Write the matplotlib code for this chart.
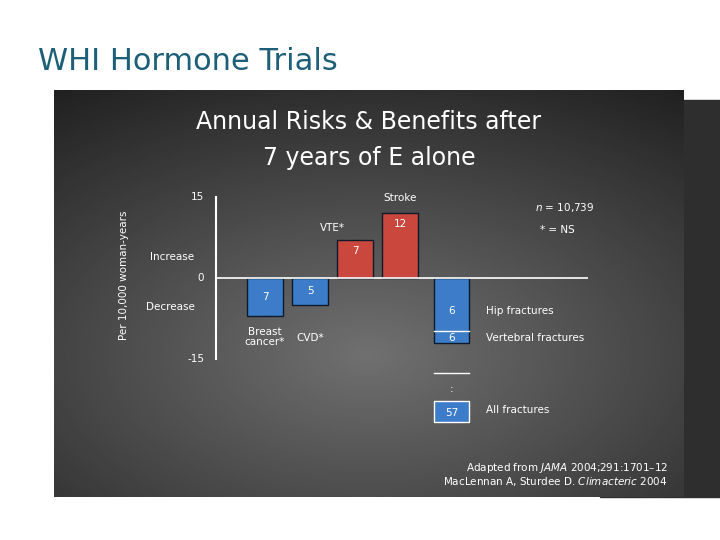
import numpy as np
import matplotlib.pyplot as plt
from matplotlib.patches import Rectangle

categories = ["Breast\ncancer*", "CVD*", "VTE*", "Stroke", "Hip fractures"]
values = [-7, -5, 7, 12, -6]
vertebral = -6
all_fractures = 57
positions = [0, 1, 2, 3, 4.15]

W, H = 720, 540
fig = plt.figure(figsize=(7.2, 5.4), dpi=100)
fig.patch.set_facecolor("white")

def fx(px): return px / W
def fy(py): return 1 - py / H

# slide title and background panels
fig.text(fx(38), fy(62), "WHI Hormone Trials", fontsize=22, color="#1d5f78", va="center")
fig.add_artist(Rectangle((fx(600), fy(497)), fx(120), fy(100) - fy(497), transform=fig.transFigure,
                         color="#2e2e2e", zorder=0))
bg = fig.add_axes([fx(54), fy(497), fx(630), fy(90) - fy(497)], zorder=0)
xx, yy = np.meshgrid(np.linspace(-1, 1, 300), np.linspace(-1, 1, 300))
shade = 0.44 - 0.22 * np.sqrt((xx * 0.8) ** 2 + ((yy - 0.3) * 0.9) ** 2)
bg.imshow(shade, cmap="gray", vmin=0, vmax=1, aspect="auto", extent=[0, 1, 0, 1])
bg.set_axis_off()

fig.text(fx(369), fy(122), "Annual Risks & Benefits after", fontsize=17, color="white", ha="center", va="center")
fig.text(fx(369), fy(158), "7 years of E alone", fontsize=17, color="white", ha="center", va="center")

# main axes: y pixel 197 -> 15, 278 -> 0
top_px, bot_px = 190, 440
ax = fig.add_axes([fx(216), fy(bot_px), fx(588) - fx(216), fy(top_px) - fy(bot_px)], zorder=1)
ax.set_facecolor("none")
ax.set_ylim(-(bot_px - 278) / 5.4, (278 - top_px) / 5.4)
ax.set_xlim((216 - 265) / 45, (588 - 265) / 45)
for s in ax.spines.values():
    s.set_visible(False)
ax.set_xticks([])
ax.set_yticks([])
ax.plot([ax.get_xlim()[0]] * 2, [-15, 15], color="white", lw=1.5, clip_on=False)
ax.axhline(0, color="white", lw=1.2)

# hip bar drawn stacked with vertebral fractures as one column
heights = values[:4] + [values[4] + vertebral]
colors = ["#3d7cc9" if v < 0 else "#c9473d" for v in heights]
ax.bar(positions, heights, width=0.78, color=colors, edgecolor="#0d1a2a", lw=1)
ax.plot([positions[4] - 0.39, positions[4] + 0.39], [-9.8] * 2, color="white", lw=1)

fs = 7.5
for p, v in zip(positions, values):
    y = v / 2 if abs(v) < 10 else v - 2
    if v == 7 and p == 2:
        y = 5
    if v == -6:
        y = -6.2
    ax.text(p, y, str(abs(v)), color="white", ha="center", va="center", fontsize=fs)
ax.text(positions[4], -11.2, str(abs(vertebral)), color="white", ha="center", va="center", fontsize=fs)

# category labels
ax.text(positions[0], -9.0, categories[0], color="white", ha="center", va="top", fontsize=fs, linespacing=1.1)
ax.text(positions[1], -10.2, categories[1], color="white", ha="center", va="top", fontsize=fs)
ax.text(positions[2] - 0.5, 9.3, categories[2], color="white", ha="center", va="center", fontsize=fs)
ax.text(positions[3], 14.8, categories[3], color="white", ha="center", va="center", fontsize=fs)
ax.text(positions[4] + 0.75, -6.2, categories[4], color="white", ha="left", va="center", fontsize=fs)
ax.text(positions[4] + 0.75, -11.2, "Vertebral fractures", color="white", ha="left", va="center", fontsize=fs)

# all fractures box (off scale)
ax.plot([positions[4] - 0.39, positions[4] + 0.39], [-17.5] * 2, color="white", lw=1)
ax.text(positions[4], -20.5, ":", color="white", ha="center", va="center", fontsize=fs)
ax.add_patch(Rectangle((positions[4] - 0.39, -26.7), 0.78, 4.0, facecolor="#3d7cc9", edgecolor="white", lw=1))
ax.text(positions[4], -25, str(all_fractures), color="white", ha="center", va="center", fontsize=fs)
ax.text(positions[4] + 0.75, -24.5, "All fractures", color="white", ha="left", va="center", fontsize=fs)

# axis labels
ax.text(-1.35, 15, "15", color="white", ha="right", va="center", fontsize=fs)
ax.text(-1.35, 0, "0", color="white", ha="right", va="center", fontsize=fs)
ax.text(-1.35, -15, "-15", color="white", ha="right", va="center", fontsize=fs)
fig.text(fx(172), fy(257), "Increase", color="white", ha="center", va="center", fontsize=fs)
fig.text(fx(170), fy(307), "Decrease", color="white", ha="center", va="center", fontsize=fs)
fig.text(fx(124), fy(275), "Per 10,000 woman-years", color="white", ha="center", va="center", fontsize=fs, rotation=90)

fig.text(fx(565), fy(207), "$n$ = 10,739", color="white", ha="center", va="center", fontsize=fs)
fig.text(fx(557), fy(230), "* = NS", color="white", ha="center", va="center", fontsize=fs)
fig.text(fx(668), fy(468), "Adapted from $JAMA$ 2004;291:1701\u201312", color="white", ha="right", va="center", fontsize=fs)
fig.text(fx(668), fy(481), "MacLennan A, Sturdee D. $Climacteric$ 2004", color="white", ha="right", va="center", fontsize=fs)

fig.savefig("out.png", dpi=100)
